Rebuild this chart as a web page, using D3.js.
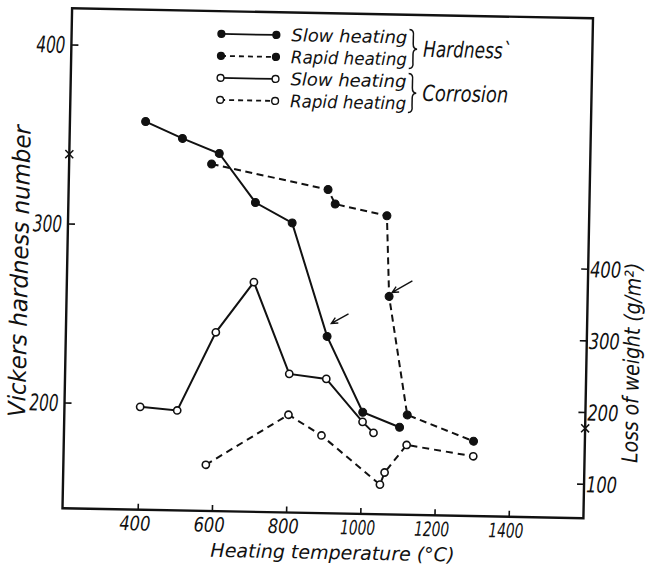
<!DOCTYPE html>
<html>
<head>
<meta charset="utf-8">
<script src="https://cdn.jsdelivr.net/npm/d3@7"></script>
<style>
  body { margin: 0; background: #fff; }
  text { font-family: "DejaVu Sans Condensed", "DejaVu Sans", sans-serif; font-style: italic; fill: #111; }
</style>
</head>
<body>
<div id="vis"></div>
<script>
// values
const hardSlowT = [400, 500, 600, 700, 800, 900, 1000, 1100]
const hardSlowV = [358, 349, 341, 314, 303, 240, 198, 190]
const hardRapidT = [580, 895, 915, 1055, 1065, 1120, 1300]
const hardRapidV = [335, 322, 314, 308, 263, 197, 183]
const corrSlowT = [400, 500, 600, 700, 800, 900, 1000, 1030]
const corrSlowV = [196, 192, 302, 373, 246, 240, 181, 166]
const corrRapidT = [580, 800, 890, 1050, 1062, 1120, 1300]
const corrRapidV = [117, 189, 161, 94, 111, 150, 136]

const xTicks = [400, 600, 800, 1000, 1200, 1400]
const leftTicks = [200, 300, 400]
const rightTicks = [100, 200, 300, 400]
const legendLabels = ['Slow heating', 'Rapid heating', 'Slow heating', 'Rapid heating']
const groupLabels = ['Hardness`', 'Corrosion']

const width = 645, height = 566
const frame = {left: 67.25, right: 588.25, top: 13.25, bottom: 513.25}

let x = d3.scaleLinear([196, 1600], [frame.left, frame.right])
let yL = d3.scaleLinear([141.2, 420.5], [frame.bottom, frame.top])
let yR = d3.scaleLinear([52.6, 750], [frame.bottom, frame.top])

function pairs(ts, vs) { return ts.map((t, i) => ({t: t, v: vs[i]})) }

const series = [
	{data: pairs(hardSlowT, hardSlowV), y: yL, dash: null, filled: true},
	{data: pairs(hardRapidT, hardRapidV), y: yL, dash: '7,4.5', filled: true},
	{data: pairs(corrSlowT, corrSlowV), y: yR, dash: null, filled: false},
	{data: pairs(corrRapidT, corrRapidV), y: yR, dash: '7,5', filled: false}
]

let svg = d3.select('#vis').append('svg')
	.attr('width', width)
	.attr('height', height)

svg.append('rect').attr('width', width).attr('height', height).attr('fill', '#fff')

// the scan is turned a little clockwise
let g = svg.append('g').attr('transform', 'rotate(1.1,327.75,263.25)')

// frame
g.append('rect')
	.attr('x', frame.left).attr('y', frame.top)
	.attr('width', frame.right - frame.left).attr('height', frame.bottom - frame.top)
	.attr('fill', 'none').attr('stroke', '#111').attr('stroke-width', 2.4)

// ticks (pointing inwards)
g.selectAll('.xt').data(xTicks).enter().append('line')
	.attr('x1', d => x(d)).attr('x2', d => x(d))
	.attr('y1', frame.bottom).attr('y2', frame.bottom - 6)
	.attr('stroke', '#111').attr('stroke-width', 1.6)
g.selectAll('.lt').data(leftTicks).enter().append('line')
	.attr('x1', frame.left).attr('x2', frame.left + 7)
	.attr('y1', d => yL(d)).attr('y2', d => yL(d))
	.attr('stroke', '#111').attr('stroke-width', 1.6)
g.selectAll('.rt').data(rightTicks).enter().append('line')
	.attr('x1', frame.right).attr('x2', frame.right - 7)
	.attr('y1', d => yR(d)).attr('y2', d => yR(d))
	.attr('stroke', '#111').attr('stroke-width', 1.6)

// tick labels
g.selectAll('.xl').data(xTicks).enter().append('text')
	.attr('x', d => x(d) - 3).attr('y', 534)
	.attr('text-anchor', 'middle')
	.attr('font-size', 20)
	.attr('textLength', d => d < 1000 ? 31 : 35)
	.attr('lengthAdjust', 'spacingAndGlyphs')
	.text(d => d)
g.selectAll('.ll').data(leftTicks).enter().append('text')
	.attr('x', frame.left - 6 - 29).attr('y', d => yL(d) + 8)
	.attr('font-size', 23)
	.attr('textLength', 29)
	.attr('lengthAdjust', 'spacingAndGlyphs')
	.text(d => d)
g.selectAll('.rl').data(rightTicks).enter().append('text')
	.attr('x', frame.right + 2).attr('y', d => yR(d) + 8)
	.attr('font-size', 22)
	.attr('textLength', 31)
	.attr('lengthAdjust', 'spacingAndGlyphs')
	.text(d => d)

// axis titles
g.append('text')
	.attr('transform', 'translate(28,277) rotate(-90)')
	.attr('text-anchor', 'middle')
	.attr('font-size', 24)
	.attr('textLength', 292).attr('lengthAdjust', 'spacingAndGlyphs')
	.text('Vickers hardness number')
g.append('text')
	.attr('transform', 'translate(641,357) rotate(-90)')
	.attr('text-anchor', 'middle')
	.attr('font-size', 22)
	.attr('textLength', 200).attr('lengthAdjust', 'spacingAndGlyphs')
	.text('Loss of weight (g/m²)')
g.append('text')
	.attr('x', 338).attr('y', 559)
	.attr('text-anchor', 'middle')
	.attr('font-size', 19)
	.attr('textLength', 244).attr('lengthAdjust', 'spacingAndGlyphs')
	.text('Heating temperature (°C)')

// curves
series.forEach(s => {
	let line = d3.line().x(d => x(d.t)).y(d => s.y(d.v))
	g.append('path')
		.datum(s.data)
		.attr('d', line)
		.attr('fill', 'none')
		.attr('stroke', '#111')
		.attr('stroke-width', 2)
		.attr('stroke-dasharray', s.dash)
	g.selectAll(null).data(s.data).enter().append('circle')
		.attr('cx', d => x(d.t))
		.attr('cy', d => s.y(d.v))
		.attr('r', s.filled ? 4 : 3.6)
		.attr('fill', s.filled ? '#111' : '#fff')
		.attr('stroke', '#111')
		.attr('stroke-width', s.filled ? 1 : 1.6)
})

// little arrows pointing at two hardness points
function arrow(px, py, tx, ty, hx, hy) {
	let ang = Math.atan2(hy - ty, hx - tx)
	let a1 = ang + Math.PI - 0.45, a2 = ang + Math.PI + 0.45
	g.append('path')
		.attr('d', `M${px + tx},${py + ty}L${px + hx},${py + hy}` +
			`M${px + hx + 7 * Math.cos(a1)},${py + hy + 7 * Math.sin(a1)}L${px + hx},${py + hy}` +
			`L${px + hx + 7 * Math.cos(a2)},${py + hy + 7 * Math.sin(a2)}`)
		.attr('fill', 'none').attr('stroke', '#111').attr('stroke-width', 1.4)
}
arrow(x(hardSlowT[5]), yL(hardSlowV[5]), 21, -23, 4, -13)
arrow(x(hardRapidT[4]), yL(hardRapidV[4]), 23, -16, 3, -4)

// small crosses on the side axes
const crossL = 339, crossR = 178
function cross(cx, cy) {
	g.append('path')
		.attr('d', `M${cx - 4},${cy - 4}L${cx + 4},${cy + 4}M${cx - 4},${cy + 4}L${cx + 4},${cy - 4}`)
		.attr('stroke', '#111').attr('stroke-width', 1.5)
}
cross(frame.left, yL(crossL))
cross(frame.right, yR(crossR))

// legend
const legY = [36, 58, 80, 102]
series.forEach((s, i) => {
	g.append('line')
		.attr('x1', 217).attr('x2', 272)
		.attr('y1', legY[i]).attr('y2', legY[i])
		.attr('stroke', '#111').attr('stroke-width', 1.8)
		.attr('stroke-dasharray', s.dash ? '5,4' : null)
	g.selectAll(null).data([217, 272]).enter().append('circle')
		.attr('cx', d => d).attr('cy', legY[i])
		.attr('r', 3.4)
		.attr('fill', s.filled ? '#111' : '#fff')
		.attr('stroke', '#111').attr('stroke-width', 1.4)
	g.append('text')
		.attr('x', 287).attr('y', legY[i] + 6)
		.attr('font-size', 17.5)
		.attr('textLength', 116).attr('lengthAdjust', 'spacingAndGlyphs')
		.text(legendLabels[i])
})
function brace(bx, y0, y1) {
	let m = (y0 + y1) / 2
	g.append('path')
		.attr('d', `M${bx},${y0}Q${bx + 5},${y0} ${bx + 4},${y0 + 7}L${bx + 4},${m - 5}Q${bx + 4},${m} ${bx + 8},${m}` +
			`Q${bx + 4},${m} ${bx + 4},${m + 5}L${bx + 4},${y1 - 7}Q${bx + 5},${y1} ${bx},${y1}`)
		.attr('fill', 'none').attr('stroke', '#111').attr('stroke-width', 1.5)
}
brace(405, legY[0] - 8, legY[1] + 9)
brace(405, legY[2] - 8, legY[3] + 9)
g.append('text').attr('x', 419).attr('y', (legY[0] + legY[1]) / 2 + 8)
	.attr('font-size', 22).attr('textLength', 88).attr('lengthAdjust', 'spacingAndGlyphs')
	.text(groupLabels[0])
g.append('text').attr('x', 419).attr('y', (legY[2] + legY[3]) / 2 + 8)
	.attr('font-size', 22).attr('textLength', 86).attr('lengthAdjust', 'spacingAndGlyphs')
	.text(groupLabels[1])
</script>
</body>
</html>
